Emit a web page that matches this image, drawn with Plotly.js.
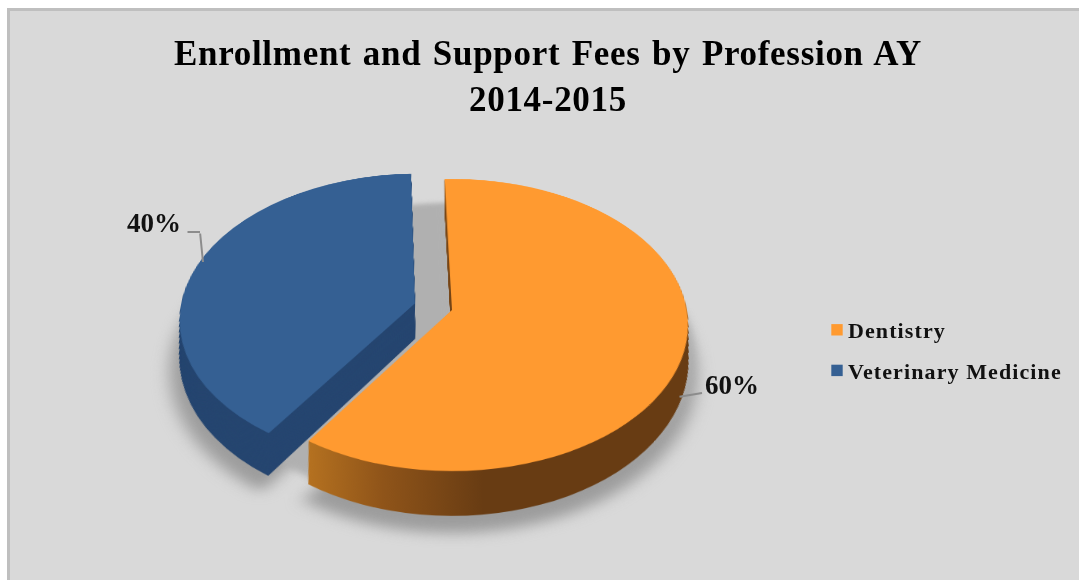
<!DOCTYPE html>
<html><head><meta charset="utf-8">
<script src="https://cdn.plot.ly/plotly-3.0.1.min.js"></script>
<style>
html,body{margin:0;padding:0;background:#fff;width:1079px;height:580px;overflow:hidden}
#frame{position:absolute;left:7px;top:8px;width:1080px;height:580px;background:#d9d9d9;border:3px solid #bfbfbf;box-sizing:border-box}
#chart{position:absolute;left:0;top:0;width:1079px;height:580px}
#chart .main-svg{overflow:visible}
</style></head><body>
<div id="frame"></div><div id="chart"></div>
<script>
const categories = ["Dentistry", "Veterinary Medicine"];
const values = [60, 40];
const faceColors = ["#ff9a30", "#356093"];
const sideColors = ["#6b3e14", "#264670"];
const shadowColors = ["#b0b0b0", "#b0b0b0"];
const outerShadowColors = ["#9c9c9c", "#9c9c9c"];
const pull = [0, 0.165];
const noPull = [0, 0];

const W = 1079, H = 580, CX = 452, CY = 290, HALF = 273.5;
const DEPTH = 57, SHADOW_A = 78, SHADOW_B = 46;
function domain(half) {
  return {x: [(CX - half) / W, (CX + half) / W], y: [(H - CY - half) / H, (H - CY + half) / H]};
}
const dom = domain(HALF);
function base(colors, legend) {
  return {type: 'pie', labels: categories, values: values, sort: false, direction: 'clockwise', rotation: -2,
    pull: pull, domain: dom, textinfo: 'none', showlegend: legend, hoverinfo: 'label+percent',
    marker: {colors: colors, line: {width: 0}}};
}
const traces = [base(outerShadowColors, false),
  Object.assign(base(shadowColors, false), {pull: noPull, domain: domain(HALF / 1.165)})];
for (let d = DEPTH; d > 0; d -= 1) traces.push(base(sideColors, false));
traces.push(base(faceColors, true));

const total = values.reduce((a, b) => a + b, 0);
const pct = values.map(v => Math.round(100 * v / total) + '%');
const px = x => x / W, py = y => 1 - y / H;
const labelFont = {family: 'Liberation Serif', size: 27, color: '#111', weight: 700};
function leader(x0, y0, x1, y1) {
  return {xref: 'paper', yref: 'paper', x: px(x1), y: py(y1), ax: x0 - x1, ay: y0 - y1, text: '', showarrow: true,
    arrowhead: 0, arrowwidth: 2, arrowcolor: '#8c8c8c', standoff: 0, startstandoff: 0};
}
const layout = {
  width: W, height: H, margin: {l: 0, r: 0, t: 0, b: 0},
  paper_bgcolor: 'rgba(0,0,0,0)', plot_bgcolor: 'rgba(0,0,0,0)',
  title: {text: 'Enrollment and Support Fees by Profession AY<br>2014-2015', x: 548 / W, xanchor: 'center',
    y: 1 - 65 / H, yanchor: 'middle', font: {family: 'Liberation Serif', size: 35, color: '#000', weight: 700}},
  legend: {x: 828 / W, y: 1 - 309 / H, xanchor: 'left', yanchor: 'top', bgcolor: 'rgba(0,0,0,0)',
    font: {family: 'Liberation Serif', size: 22, color: '#111', weight: 700}},
  annotations: [
    {xref: 'paper', yref: 'paper', x: px(154), y: py(223), xanchor: 'center', yanchor: 'middle', text: pct[1], showarrow: false, font: labelFont},
    {xref: 'paper', yref: 'paper', x: px(732), y: py(385), xanchor: 'center', yanchor: 'middle', text: pct[0], showarrow: false, font: labelFont},
    leader(186, 232, 200, 232), leader(200, 232, 203, 262), leader(678, 397, 702, 393)
  ]
};
Plotly.newPlot('chart', traces, layout, {displayModeBar: false}).then(() => {
  const NS = 'http://www.w3.org/2000/svg';
  const svg = document.querySelector('#chart .main-svg');
  const defs = svg.querySelector('defs') || svg.appendChild(document.createElementNS(NS, 'defs'));
  defs.insertAdjacentHTML('beforeend',
    '<linearGradient id="sideGrad" gradientUnits="userSpaceOnUse" x1="300" y1="0" x2="480" y2="0">' +
    '<stop offset="0" stop-color="#c07a22"/><stop offset="0.5" stop-color="#8f5419"/><stop offset="1" stop-color="#683c13"/></linearGradient>');
  const groups = document.querySelectorAll('#chart .pielayer .trace');
  groups.forEach((g, i) => {
    if (i < 2) {
      g.setAttribute('transform', 'translate(0,' + (i === 0 ? SHADOW_A : SHADOW_B) + ')');
      g.style.filter = 'blur(' + (i === 0 ? 8 : 4) + 'px)';
    } else if (i < groups.length - 1) {
      const d = DEPTH - (i - 2);
      const f = 1 - 0.0245 * d / 57;
      g.setAttribute('transform', 'translate(' + CX + ',' + d + ') scale(' + f + ',1) translate(' + (-CX) + ',0)');
      const p = g.querySelector('.slice path');
      if (p) p.style.fill = 'url(#sideGrad)';
    }
  });
  svg.style.transformOrigin = CX + 'px ' + CY + 'px';
  svg.style.transform = 'translateY(20px) perspective(1800px) rotateX(52deg)';
  const title = document.querySelector('#chart .gtitle');
  if (title) { title.style.letterSpacing = '0.7px'; title.style.wordSpacing = '2px'; }
  const scroll = document.querySelector('#chart .legend .scrollbox');
  if (scroll) scroll.removeAttribute('clip-path');
  const items = document.querySelectorAll('#chart .legend .traces');
  items.forEach((it, i) => {
    const t = it.getAttribute('transform') || '';
    if (i === 1) it.setAttribute('transform', t + ' translate(0,9)');
    const txt = it.querySelector('.legendtext');
    txt.style.letterSpacing = '1.1px';
    txt.setAttribute('x', 20);
    const leg = it.querySelector('.legendpie');
    if (leg) leg.setAttribute('transform', 'translate(9,0) scale(0.95)');
  });
});
</script></body></html>
